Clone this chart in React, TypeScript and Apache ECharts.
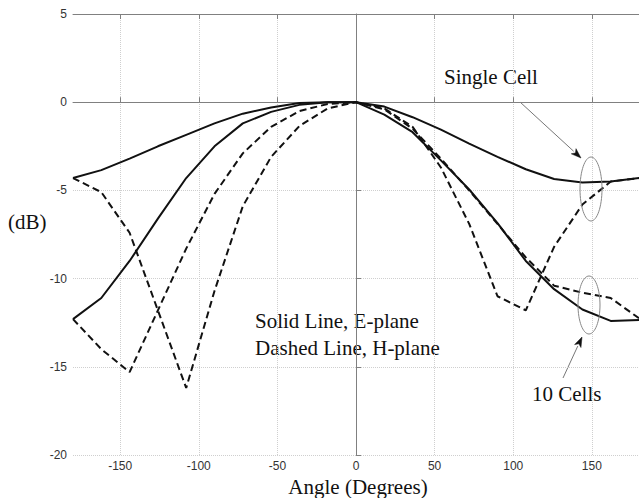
import React, { useEffect, useRef } from "react";
import * as echarts from "echarts";

// Angle samples (degrees)
const angles = [-180, -162, -144, -126, -108, -90, -72, -54, -36, -18, 0, 18, 36, 54, 72, 90, 108, 126, 144, 162, 180];

// Single cell, E-plane (solid)
const singleCellE = [-4.3, -3.85, -3.2, -2.5, -1.85, -1.2, -0.65, -0.3, -0.05, 0, 0, -0.25, -0.85, -1.55, -2.35, -3.1, -3.8, -4.35, -4.55, -4.5, -4.3];
// Single cell, H-plane (dashed)
const singleCellH = [-4.3, -5.1, -7.4, -11.8, -16.2, -10.7, -5.9, -3.1, -1.35, -0.35, 0, -0.35, -1.4, -3.7, -6.9, -11.0, -11.8, -8.2, -5.8, -4.5, -4.3];
// 10 cells, E-plane (solid)
const tenCellsE = [-12.3, -11.1, -9.0, -6.6, -4.3, -2.5, -1.2, -0.55, -0.15, 0, 0, -0.7, -1.7, -3.3, -4.95, -6.85, -9.0, -10.6, -11.75, -12.4, -12.35];
// 10 cells, H-plane (dashed)
const tenCellsH = [-12.3, -14.0, -15.3, -11.8, -8.3, -5.2, -2.9, -1.4, -0.5, -0.1, 0, -0.4, -1.5, -3.2, -5.0, -6.9, -8.8, -10.4, -10.8, -11.1, -12.25];

const xTickValues = [-150, -100, -50, 0, 50, 100, 150];

const SERIF = '"Liberation Serif", "Times New Roman", serif';
const SANS = '"Liberation Sans", Arial, sans-serif';

function arrow(x1: number, y1: number, x2: number, y2: number) {
  const dx = x2 - x1;
  const dy = y2 - y1;
  const len = Math.sqrt(dx * dx + dy * dy);
  const ux = dx / len;
  const uy = dy / len;
  const hl = 10;
  const hw = 3.5;
  const bx = x2 - ux * hl;
  const by = y2 - uy * hl;
  return [
    {
      type: "line",
      shape: { x1, y1, x2: bx, y2: by },
      style: { stroke: "#777", lineWidth: 1 },
      silent: true,
    },
    {
      type: "polygon",
      shape: {
        points: [
          [x2, y2],
          [bx - uy * hw, by + ux * hw],
          [bx + ux * 2.5, by + uy * 2.5],
          [bx + uy * hw, by - ux * hw],
        ],
      },
      style: { fill: "#111", stroke: "#111", lineWidth: 0.5 },
      silent: true,
    },
  ];
}

function label(text: string, x: number, y: number, size: number, align = "left") {
  return {
    type: "text",
    x,
    y,
    silent: true,
    style: {
      text,
      font: `${size}px ${SERIF}`,
      fill: "#111",
      align,
      verticalAlign: "middle",
      textAlign: align,
      textVerticalAlign: "middle",
    },
  };
}

export default function App() {
  const ref = useRef<HTMLDivElement>(null);

  useEffect(() => {
    if (!ref.current) return;
    const chart = echarts.init(ref.current, null, { renderer: "svg" });
    const pair = (ys: number[]) => angles.map((a, i) => [a, ys[i]]);

    const solid = { color: "#111", width: 2, type: "solid" as const };
    const dashed = { color: "#111", width: 2, type: [7, 4] as any };

    const option: any = {
      animation: false,
      backgroundColor: "#fff",
      grid: { left: 73, top: 14, width: 572, height: 441, containLabel: false },
      xAxis: [
        {
          type: "value",
          min: -180,
          max: 180,
          position: "bottom",
          axisLine: { show: true, lineStyle: { color: "#808080", width: 1 } },
          axisTick: {
            show: true,
            inside: true,
            length: 5,
            lineStyle: { color: "#808080" },
            customValues: xTickValues,
          },
          axisLabel: {
            show: true,
            customValues: xTickValues,
            color: "#333",
            fontSize: 12,
            fontFamily: SANS,
            margin: 5,
          },
          splitLine: { show: true, lineStyle: { color: "#cfcfcf", type: "dotted", width: 1 } },
        },
        {
          type: "value",
          min: -180,
          max: 180,
          position: "top",
          axisLine: { show: true, lineStyle: { color: "#808080", width: 1 } },
          axisTick: {
            show: true,
            inside: true,
            length: 5,
            lineStyle: { color: "#808080" },
            customValues: xTickValues,
          },
          axisLabel: { show: false },
          splitLine: { show: false },
        },
      ],
      yAxis: {
        type: "value",
        min: -20,
        max: 5,
        interval: 5,
        axisLine: { show: true, lineStyle: { color: "#808080", width: 1 } },
        axisTick: { show: true, inside: true, length: 5, lineStyle: { color: "#808080" } },
        axisLabel: { color: "#333", fontSize: 12, fontFamily: SANS, margin: 6 },
        splitLine: { show: true, lineStyle: { color: "#cfcfcf", type: "dotted", width: 1 } },
      },
      series: [
        { name: "Single Cell E-plane", type: "line", data: pair(singleCellE), showSymbol: false, smooth: false, lineStyle: solid, z: 3 },
        { name: "Single Cell H-plane", type: "line", data: pair(singleCellH), showSymbol: false, smooth: false, lineStyle: dashed, z: 3 },
        { name: "10 Cells E-plane", type: "line", data: pair(tenCellsE), showSymbol: false, smooth: false, lineStyle: solid, z: 3 },
        { name: "10 Cells H-plane", type: "line", data: pair(tenCellsH), showSymbol: false, smooth: false, lineStyle: dashed, z: 3 },
      ],
      graphic: [
        label("(dB)", 8, 222, 21),
        label("Angle (Degrees)", 358, 486.5, 21, "center"),
        label("Single Cell", 444, 77, 21),
        label("10 Cells", 532, 394, 21),
        label("Solid Line, E-plane", 255, 321, 21),
        label("Dashed Line, H-plane", 255, 348, 21),
        {
          type: "ellipse",
          shape: { cx: 591, cy: 189, rx: 11, ry: 32 },
          style: { fill: "none", stroke: "#888", lineWidth: 1 },
          silent: true,
          z: 10,
        },
        {
          type: "ellipse",
          shape: { cx: 589, cy: 305, rx: 11, ry: 29 },
          style: { fill: "none", stroke: "#888", lineWidth: 1 },
          silent: true,
          z: 10,
        },
        ...arrow(520, 102, 581, 158),
        ...arrow(563, 378, 582, 337),
      ],
    };

    chart.setOption(option);
    return () => chart.dispose();
  }, []);

  return (
    <div
      ref={ref}
      style={{ position: "fixed", left: 0, top: 0, width: 639, height: 498, background: "#fff" }}
    />
  );
}
